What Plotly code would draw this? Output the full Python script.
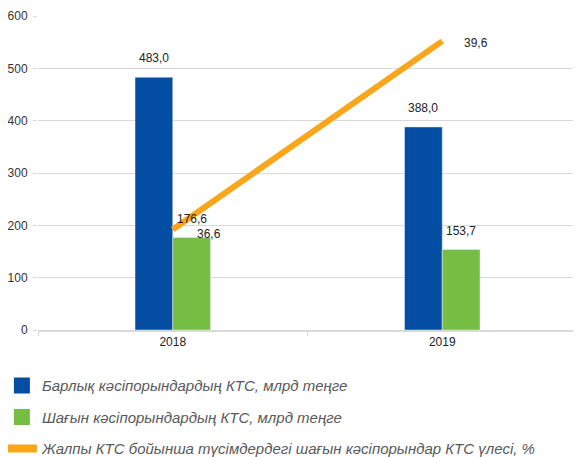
import plotly.graph_objects as go

years = ["2018", "2019"]
total_kts = [483.0, 388.0]
small_kts = [176.6, 153.7]
small_share = [36.6, 39.6]

name_total = "Барлық кәсіпорындардың КТС, млрд теңге"
name_small = "Шағын кәсіпорындардың КТС, млрд теңге"
name_share = "Жалпы КТС бойынша түсімдердегі шағын кәсіпорындар КТС үлесі, %"

def fmt(v):
    return f"{v:.1f}".replace(".", ",")

BLUE = "#034EA2"
GREEN = "#76BD43"
ORANGE = "#F9A61A"
GRID = "#D9D9D9"

fig = go.Figure()
fig.add_trace(go.Bar(x=years, y=total_kts, name=name_total, marker_color=BLUE,
                     showlegend=False, hoverinfo="skip"))
fig.add_trace(go.Bar(x=years, y=small_kts, name=name_small, marker_color=GREEN,
                     showlegend=False, hoverinfo="skip"))
fig.add_trace(go.Scatter(x=years, y=small_share, name=name_share, yaxis="y2",
                         mode="lines", line=dict(color=ORANGE, width=6),
                         showlegend=False, hoverinfo="skip"))
# legend entries (larger square keys, like the original)
fig.add_trace(go.Scatter(x=[None], y=[None], name=name_total, mode="markers",
                         marker=dict(symbol="square", size=21, color=BLUE),
                         legendgroup="a"))
fig.add_trace(go.Scatter(x=[None], y=[None], name=name_small, mode="markers",
                         marker=dict(symbol="square", size=21, color=GREEN),
                         legendgroup="b"))
fig.add_trace(go.Scatter(x=[None], y=[None], name=name_share, mode="lines",
                         line=dict(color=ORANGE, width=8), legendgroup="c"))

ann = []
for i, y in enumerate(years):
    ann.append(dict(x=i, y=total_kts[i], xref="x", yref="y", text=fmt(total_kts[i]),
                    showarrow=False, xshift=-19, yshift=10, yanchor="bottom"))
    ann.append(dict(x=i, y=small_kts[i], xref="x", yref="y", text=fmt(small_kts[i]),
                    showarrow=False, xshift=19, yshift=10, yanchor="bottom"))
ann.append(dict(x=0, y=small_share[0], xref="x", yref="y2", text=fmt(small_share[0]),
                showarrow=False, xanchor="left", xshift=22, yshift=-4))
ann.append(dict(x=1, y=small_share[1], xref="x", yref="y2", text=fmt(small_share[1]),
                showarrow=False, xanchor="left", xshift=20, yshift=-2))

fig.update_layout(
    width=573, height=449,
    margin=dict(l=30, r=4, t=8, b=127, autoexpand=False),
    paper_bgcolor="white", plot_bgcolor="white",
    font=dict(family="Liberation Sans, Arial, sans-serif", size=12, color="#222"),
    barmode="group", bargap=0.72, bargroupgap=0,
    annotations=ann,
    showlegend=True,
    legend=dict(orientation="v", x=-0.067, xanchor="left", y=-0.125, yanchor="top",
                font=dict(size=15, color="#595959", style="italic"),
                tracegroupgap=9, traceorder="grouped", itemsizing="trace",
                bgcolor="rgba(0,0,0,0)"),
    xaxis=dict(type="category", range=[-0.5, 1.5], showline=True, linecolor=GRID, linewidth=2,
               ticks="outside", tickson="boundaries", ticklen=4, tickcolor=GRID,
               tickfont=dict(size=12, color="#222"), showgrid=False, automargin=False),
    yaxis=dict(range=[0, 600], dtick=100, showgrid=True, gridcolor=GRID, gridwidth=1,
               zeroline=False, ticks="outside", ticklen=4, tickcolor=GRID,
               ticklabelstandoff=3,
               tickfont=dict(size=12, color="#333"), automargin=False),
    yaxis2=dict(overlaying="y", side="right", range=[35, 40], dtick=0.5,
                showticklabels=False, showgrid=False, zeroline=False, automargin=False,
                ticks="outside", ticklen=3, tickcolor=GRID, showline=False),
)

fig.write_html("out.html")
